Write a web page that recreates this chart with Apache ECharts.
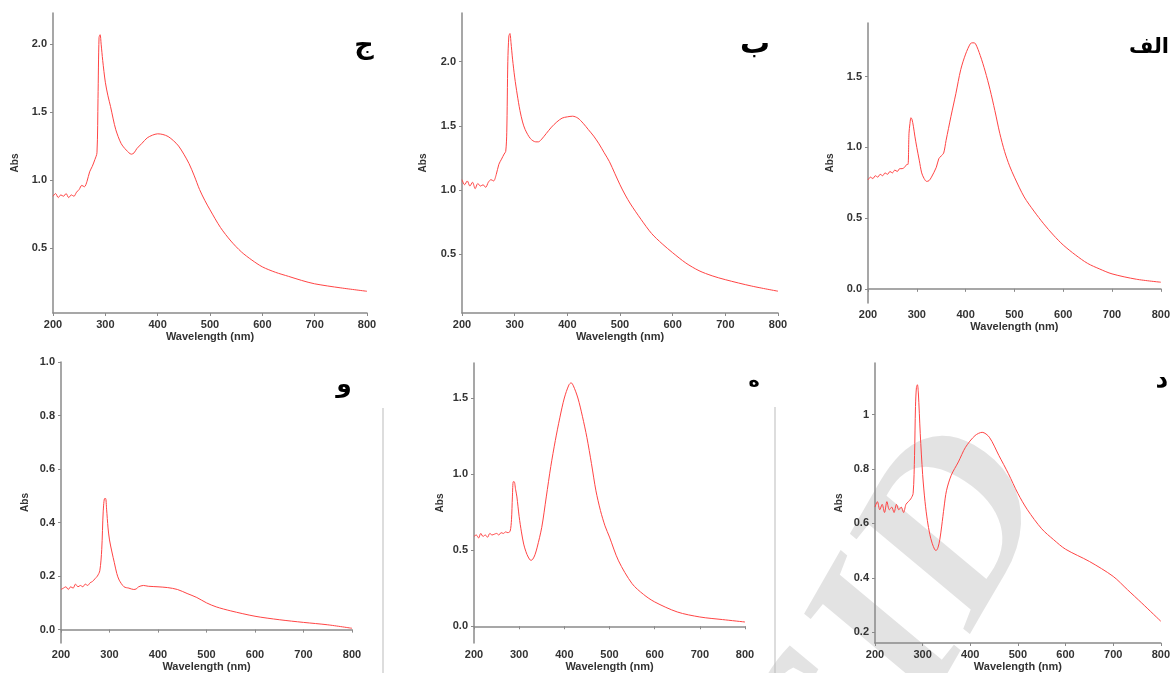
<!DOCTYPE html>
<html>
<head>
<meta charset="utf-8">
<script src="https://cdn.jsdelivr.net/npm/echarts@6/dist/echarts.min.js"></script>
<style>
  html, body { margin: 0; padding: 0; background: #fff; }
  #chart { width: 1173px; height: 673px; }
</style>
</head>
<body>
<div id="chart"></div>
<script>
// ---- data ----
const panelNames = ['ج', 'ب', 'الف', 'و', 'ه', 'د'];

const wlJim = [200,205,210,215,220,225,230,235,240,245,250,255,260,265,270,275,280,284,286,288,290,292,295,300,305,310,315,320,330,340,350,355,360,370,380,390,400,410,420,430,440,450,460,470,480,490,500,520,540,560,580,600,625,650,675,700,750,800];
const absJim = [0.88,0.90,0.87,0.89,0.88,0.90,0.87,0.89,0.88,0.91,0.93,0.96,0.95,0.99,1.06,1.10,1.15,1.20,1.60,2.05,2.07,2.00,1.88,1.72,1.62,1.54,1.45,1.37,1.27,1.22,1.19,1.20,1.23,1.27,1.31,1.33,1.34,1.335,1.32,1.29,1.25,1.19,1.12,1.03,0.93,0.85,0.78,0.65,0.55,0.47,0.41,0.36,0.32,0.29,0.26,0.235,0.205,0.18];

const wlBe = [200,205,210,215,220,225,230,235,240,245,250,255,260,265,270,275,280,283,285,287,289,291,293,296,300,305,310,315,320,330,340,345,350,360,370,380,390,400,410,420,430,440,450,460,470,480,490,500,510,520,540,560,580,600,625,650,675,700,750,800];
const absBe = [1.08,1.04,1.07,1.03,1.06,1.01,1.05,1.03,1.04,1.02,1.06,1.08,1.07,1.12,1.20,1.24,1.28,1.30,1.45,2.00,2.20,2.22,2.15,2.02,1.88,1.74,1.62,1.53,1.47,1.40,1.375,1.375,1.39,1.44,1.49,1.53,1.56,1.57,1.575,1.56,1.52,1.47,1.42,1.36,1.29,1.22,1.13,1.04,0.96,0.89,0.77,0.66,0.58,0.51,0.43,0.37,0.33,0.30,0.25,0.21];

const wlAlef = [200,205,210,215,220,225,230,235,240,245,250,255,260,265,270,275,280,282,284,286,288,290,293,296,300,305,310,315,320,325,330,340,345,350,355,360,370,380,390,400,410,415,420,430,440,450,460,470,480,490,500,520,540,560,580,600,625,650,675,700,750,800];
const absAlef = [0.77,0.79,0.78,0.80,0.79,0.81,0.80,0.82,0.81,0.83,0.82,0.84,0.83,0.85,0.85,0.86,0.88,0.88,1.10,1.17,1.21,1.20,1.15,1.08,1.00,0.91,0.82,0.78,0.76,0.765,0.79,0.86,0.92,0.94,0.96,1.05,1.22,1.38,1.55,1.66,1.735,1.74,1.735,1.65,1.54,1.41,1.26,1.10,0.97,0.87,0.79,0.65,0.55,0.46,0.38,0.31,0.24,0.18,0.14,0.106,0.068,0.047];

const wlVav = [200,205,210,215,220,225,230,235,240,245,250,255,260,265,270,275,280,284,287,290,292,294,297,300,305,310,315,320,330,340,350,355,360,370,380,400,420,440,460,480,500,520,550,600,650,700,750,800];
const absVav = [0.15,0.155,0.16,0.15,0.16,0.155,0.17,0.16,0.165,0.16,0.17,0.165,0.175,0.18,0.19,0.20,0.22,0.30,0.44,0.49,0.49,0.45,0.38,0.335,0.29,0.25,0.21,0.185,0.16,0.155,0.15,0.152,0.16,0.165,0.162,0.16,0.157,0.15,0.135,0.12,0.10,0.085,0.07,0.05,0.037,0.027,0.018,0.005];

const wlHe = [200,205,210,215,220,225,230,235,240,245,250,255,260,265,270,275,280,283,285,287,289,292,295,300,305,310,315,320,326,330,335,340,350,360,370,380,390,400,410,415,420,430,440,450,460,470,480,490,500,520,550,575,600,650,700,750,800];
const absHe = [0.59,0.60,0.58,0.61,0.59,0.60,0.585,0.61,0.60,0.605,0.61,0.60,0.615,0.61,0.62,0.615,0.625,0.70,0.85,0.95,0.95,0.90,0.85,0.72,0.62,0.54,0.49,0.455,0.433,0.44,0.47,0.52,0.65,0.85,1.05,1.22,1.37,1.50,1.585,1.60,1.58,1.50,1.38,1.24,1.07,0.89,0.76,0.66,0.586,0.43,0.28,0.21,0.16,0.094,0.061,0.044,0.028];

const wlDal = [200,205,210,215,220,225,230,235,240,245,250,255,260,265,270,275,280,283,285,287,289,291,295,300,305,310,315,320,325,328,332,336,340,345,350,360,375,390,410,425,440,460,480,500,520,550,575,600,650,700,730,760,800];
const absDal = [0.66,0.68,0.65,0.67,0.64,0.68,0.65,0.66,0.64,0.67,0.65,0.66,0.64,0.67,0.68,0.69,0.71,0.85,1.03,1.10,1.11,1.08,0.93,0.78,0.68,0.61,0.56,0.527,0.505,0.50,0.51,0.54,0.59,0.66,0.72,0.777,0.826,0.88,0.923,0.935,0.917,0.85,0.783,0.71,0.65,0.58,0.54,0.505,0.46,0.405,0.356,0.307,0.24];

// y axis ranges and tick values per panel
const yMin = [0.02, 0.04, -0.10, -0.05, -0.11, 0.16];
const yMax = [2.23, 2.38, 1.88, 1.00, 1.73, 1.19];
const yTicks = [
  [0.5, 1.0, 1.5, 2.0],
  [0.5, 1.0, 1.5, 2.0],
  [0.0, 0.5, 1.0, 1.5],
  [0.0, 0.2, 0.4, 0.6, 0.8, 1.0],
  [0.0, 0.5, 1.0, 1.5],
  [0.2, 0.4, 0.6, 0.8, 1]
];

const spectra = [
  [wlJim, absJim], [wlBe, absBe], [wlAlef, absAlef],
  [wlVav, absVav], [wlHe, absHe], [wlDal, absDal]
];

// ---- layout ----
const boxes = [
  { left: 53, top: 13, width: 314, height: 300, gap: 33 },
  { left: 462, top: 13, width: 316, height: 300, gap: 34 },
  { left: 868, top: 23, width: 296, height: 280, gap: 33 },
  { left: 61, top: 362, width: 291, height: 281, gap: 31 },
  { left: 474, top: 363, width: 271, height: 280, gap: 29 },
  { left: 875, top: 363, width: 289, height: 280, gap: 31 }
];
// panel letter position and size
const labelPos = [[364, 46, 27], [755, 45, 30], [1149, 48, 21], [344, 385, 25], [754, 382, 19], [1162, 380, 25]];

const axisGray = '#8a8a8a';
const textGray = '#333';

let grids = [], xAxes = [], yAxes = [], series = [];
for (let i = 0; i < 6; i++) {
  const b = boxes[i];
  grids.push({ left: b.left, top: b.top, width: b.width, height: b.height });
  xAxes.push({
    gridIndex: i,
    type: 'value',
    min: 200, max: 800, interval: 100,
    name: 'Wavelength (nm)',
    nameLocation: 'middle',
    nameGap: 18,
    nameTextStyle: { fontFamily: 'Liberation Sans', fontSize: 11, fontWeight: 'bold', color: textGray },
    axisLine: { show: true, lineStyle: { color: axisGray, width: 1.5 } },
    axisTick: { show: true, length: 3, lineStyle: { color: axisGray } },
    axisLabel: { margin: 6, fontFamily: 'Liberation Sans', fontSize: 11, fontWeight: 'bold', color: textGray },
    splitLine: { show: false }
  });
  yAxes.push({
    gridIndex: i,
    type: 'value',
    min: yMin[i], max: yMax[i],
    name: 'Abs',
    nameLocation: 'middle',
    nameRotate: 90,
    nameGap: b.gap,
    nameTextStyle: { fontFamily: 'Liberation Sans', fontSize: 10, fontWeight: 'bold', color: textGray },
    axisLine: { show: true, onZero: false, lineStyle: { color: axisGray, width: 1.5 } },
    axisTick: { show: true, length: 3, customValues: yTicks[i], lineStyle: { color: axisGray } },
    axisLabel: {
      margin: 6, fontFamily: 'Liberation Sans', fontSize: 11, fontWeight: 'bold', color: textGray,
      customValues: yTicks[i],
      formatter: v => (i === 5 && v === 1) ? '1' : v.toFixed(1)
    },
    splitLine: { show: false }
  });
  const wl = spectra[i][0], ab = spectra[i][1];
  series.push({
    type: 'line',
    xAxisIndex: i, yAxisIndex: i,
    data: wl.map((w, k) => [w, ab[k]]),
    showSymbol: false,
    smooth: 0.3,
    lineStyle: { color: '#ff4444', width: 1 },
    z: 3
  });
}

let graphics = [
  {
    // "SID" watermark over the lower right panels
    type: 'text', x: 905, y: 625, rotation: 1.05, z: -10,
    style: {
      text: 'SID', align: 'center', verticalAlign: 'middle',
      font: 'italic bold 235px "Liberation Serif"', fill: '#e3e3e3'
    }
  },
  { type: 'line', shape: { x1: 383, y1: 408, x2: 383, y2: 673 }, style: { stroke: '#bbb', lineWidth: 1 } },
  { type: 'line', shape: { x1: 775, y1: 407, x2: 775, y2: 673 }, style: { stroke: '#bbb', lineWidth: 1 } }
];
for (let i = 0; i < 6; i++) {
  graphics.push({
    type: 'text', x: labelPos[i][0], y: labelPos[i][1], z: 10,
    style: {
      text: panelNames[i], align: 'center', verticalAlign: 'middle',
      font: 'bold ' + labelPos[i][2] + 'px "DejaVu Sans"', fill: '#000'
    }
  });
}

let chart = echarts.init(document.getElementById('chart'));
chart.setOption({
  animation: false,
  backgroundColor: '#fff',
  grid: grids,
  xAxis: xAxes,
  yAxis: yAxes,
  series: series,
  graphic: graphics
});
</script>
</body>
</html>
